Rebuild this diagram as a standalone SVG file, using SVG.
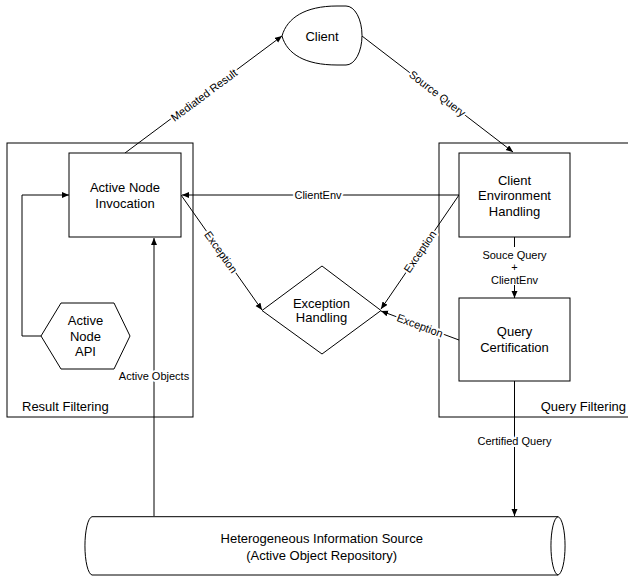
<svg xmlns="http://www.w3.org/2000/svg" width="628" height="577" viewBox="0 0 628 577">
<style>
text{font-family:"Liberation Sans",Arial,sans-serif;fill:#000}
.n{font-size:13px;text-anchor:middle}
.l{font-size:11px;text-anchor:middle}
.h{stroke:#fff;stroke-width:4;paint-order:stroke;stroke-linejoin:round}
.s{fill:#fff;stroke:#000;stroke-width:1}
.c{fill:none;stroke:#000;stroke-width:1}
</style>
<defs>
<marker id="a" markerUnits="userSpaceOnUse" markerWidth="8" markerHeight="7" refX="7" refY="3" orient="auto">
<path d="M0,0 L7,3 L0,6 Z" fill="#000"/>
</marker>
</defs>
<rect width="628" height="577" fill="#fff"/>
<g id="result-filtering">
<rect x="7" y="143" width="186" height="274" class="c"/>
<text x="22" y="411" style="font-size:13px">Result Filtering</text>
</g>
<g id="query-filtering">
<rect x="439" y="143" width="200" height="274" class="c"/>
<text x="626" y="411" style="font-size:13px;text-anchor:end">Query Filtering</text>
</g>
<g id="connectors">
<path d="M125,153 L282,36" class="c" marker-end="url(#a)"/>
<path d="M362,36 L513,152" class="c" marker-end="url(#a)"/>
<path d="M459,195 L182,195" class="c" marker-end="url(#a)"/>
<path d="M181,195 L262,310" class="c" marker-end="url(#a)"/>
<path d="M459,195 L381,309" class="c" marker-end="url(#a)"/>
<path d="M459,340 L381,311" class="c" marker-end="url(#a)"/>
<path d="M514.5,237 L514.5,298" class="c" marker-end="url(#a)"/>
<path d="M514.5,381 L514.5,516" class="c" marker-end="url(#a)"/>
<path d="M154,516 L154,238" class="c" marker-end="url(#a)"/>
<path d="M41,336 L22,336 L22,195 L69,195" class="c" marker-end="url(#a)"/>
<text class="l h" transform="translate(204,95) rotate(-36.7)" y="4">Mediated Result</text>
<text class="l h" transform="translate(437.5,93.5) rotate(37.5)" y="4">Source Query</text>
<text class="l h" x="318" y="199">ClientEnv</text>
<text class="l h" transform="translate(221,252) rotate(54.8)" y="4">Exception</text>
<text class="l h" transform="translate(420,251.5) rotate(-55.4)" y="4">Exception</text>
<text class="l h" transform="translate(420,325.5) rotate(20.4)" y="4">Exception</text>
<rect x="486" y="247" width="57" height="38" fill="#fff"/>
<text class="l" x="514.5" y="259">Souce Query</text>
<text class="l" x="514.5" y="271">+</text>
<text class="l" x="514.5" y="284">ClientEnv</text>
<text class="l h" x="514.5" y="445">Certified Query</text>
<text class="l h" x="154" y="380">Active Objects</text>
</g>
<g id="client">
<path d="M337,6 L346,6 A16,29.5 0 0 1 346,65 L337,65 C305,65 287,54 282,36 C287,18 305,6 337,6 Z" class="s"/>
<text class="n" x="322" y="40.5">Client</text>
</g>
<g id="active-node-invocation">
<rect x="69" y="153" width="112" height="84" class="s"/>
<text class="n" x="125" y="192">Active Node</text>
<text class="n" x="125" y="207.5">Invocation</text>
</g>
<g id="active-node-api">
<polygon points="41,336 61,303 114,303 130,336 114,369 61,369" class="s"/>
<text class="n" x="85.5" y="325">Active</text>
<text class="n" x="85.5" y="340.5">Node</text>
<text class="n" x="85.5" y="356">API</text>
</g>
<g id="exception-handling">
<polygon points="262,310.5 322,266 381,310.5 322,354" class="s"/>
<text class="n" x="321.5" y="307.5">Exception</text>
<text class="n" x="321.5" y="322">Handling</text>
</g>
<g id="client-environment-handling">
<rect x="459" y="153" width="111" height="84" class="s"/>
<text class="n" x="514.5" y="184.5">Client</text>
<text class="n" x="514.5" y="200">Environment</text>
<text class="n" x="514.5" y="215.5">Handling</text>
</g>
<g id="query-certification">
<rect x="459" y="298" width="111" height="83" class="s"/>
<text class="n" x="514.5" y="336">Query</text>
<text class="n" x="514.5" y="351.5">Certification</text>
</g>
<g id="information-source">
<path d="M92,516.7 L558,516.7 A7.5,29.2 0 0 1 558,575 L92,575 A7.5,29.2 0 0 1 92,516.7 Z" class="s"/>
<path d="M558,516.7 A7.5,29.2 0 0 0 558,575" class="c"/>
<text class="n" x="321.7" y="542.5">Heterogeneous Information Source</text>
<text class="n" x="321.7" y="559.5">(Active Object Repository)</text>
</g>
</svg>
